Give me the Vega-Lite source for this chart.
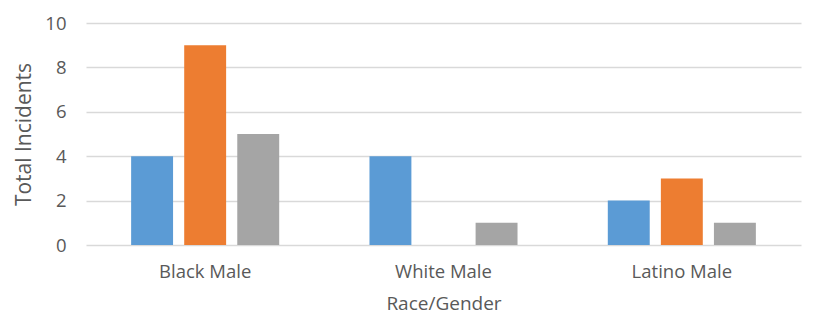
{
  "$schema": "https://vega.github.io/schema/vega-lite/v6.json",
  "autosize": "none",
  "width": 715,
  "height": 222,
  "padding": {"left": 86, "top": 23, "right": 19, "bottom": 67},
  "background": "white",
  "data": {
    "values": [
      {"group": "Black Male", "series": "A", "value": 4},
      {"group": "Black Male", "series": "B", "value": 9},
      {"group": "Black Male", "series": "C", "value": 5},
      {"group": "White Male", "series": "A", "value": 4},
      {"group": "White Male", "series": "B", "value": 0},
      {"group": "White Male", "series": "C", "value": 1},
      {"group": "Latino Male", "series": "A", "value": 2},
      {"group": "Latino Male", "series": "B", "value": 3},
      {"group": "Latino Male", "series": "C", "value": 1}
    ]
  },
  "config": {
    "view": {"stroke": null},
    "font": "Open Sans"
  },
  "mark": {"type": "bar"},
  "encoding": {
    "x": {
      "field": "group",
      "type": "nominal",
      "sort": ["Black Male", "White Male", "Latino Male"],
      "scale": {"paddingInner": 0.332, "paddingOuter": 0.166},
      "axis": {
        "title": "Race/Gender",
        "labelAngle": 0,
        "domain": false,
        "ticks": false,
        "labelFont": "Open Sans",
        "titleFont": "Open Sans",
        "labelColor": "#595959",
        "titleColor": "#595959",
        "titleFontWeight": "normal",
        "labelFontSize": 18.5,
        "titleFontSize": 19,
        "labelPadding": 17,
        "titlePadding": 14
      }
    },
    "xOffset": {
      "field": "series",
      "type": "nominal",
      "scale": {"paddingInner": 0.21, "paddingOuter": 0.105}
    },
    "y": {
      "field": "value",
      "type": "quantitative",
      "scale": {"domain": [0, 10]},
      "axis": {
        "title": "Total Incidents",
        "values": [0, 2, 4, 6, 8, 10],
        "domain": false,
        "ticks": false,
        "gridColor": "#d9d9d9",
        "gridWidth": 1.3,
        "labelFont": "Open Sans",
        "titleFont": "Open Sans",
        "labelColor": "#595959",
        "titleColor": "#595959",
        "titleFontWeight": "normal",
        "labelFontSize": 18.5,
        "titleFontSize": 21,
        "labelPadding": 20,
        "titlePadding": 10
      }
    },
    "color": {
      "field": "series",
      "type": "nominal",
      "scale": {"domain": ["A", "B", "C"], "range": ["#5b9bd5", "#ed7d31", "#a5a5a5"]},
      "legend": null
    }
  }
}
